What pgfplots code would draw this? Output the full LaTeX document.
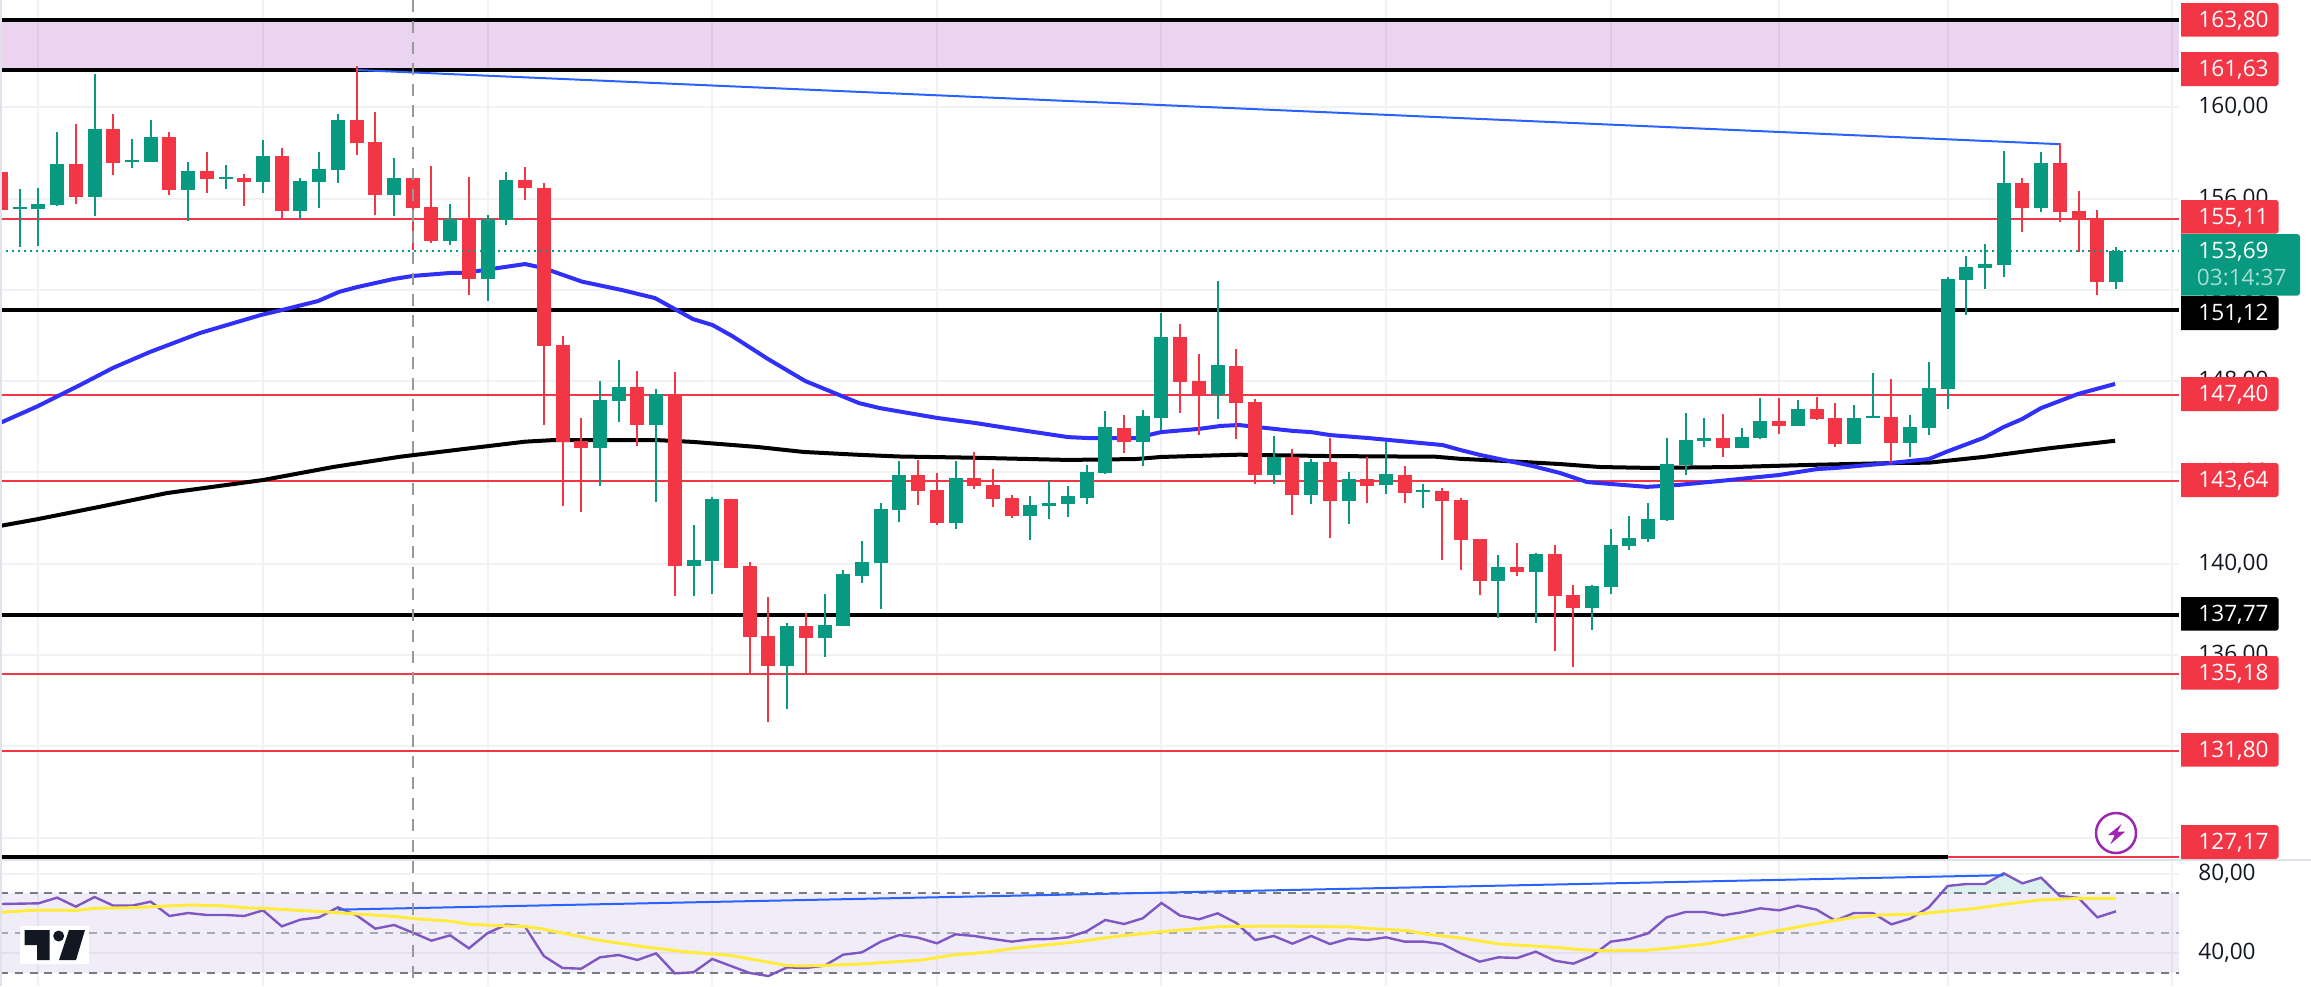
\documentclass[border=0pt]{standalone}
\usepackage{pgfplots}
\usepackage{pgfplotstable}
\usepackage{fontspec}
\setmainfont{Open Sans}
\pgfplotsset{compat=1.18}
\definecolor{cR}{HTML}{F23645}
\definecolor{cG}{HTML}{089981}
\definecolor{cMA}{HTML}{3030FA}
\definecolor{cT}{HTML}{2962FF}
\definecolor{cTx}{HTML}{131722}
\definecolor{cGrid}{HTML}{F1F2F4}
\definecolor{cRsi}{HTML}{7E57C2}
\definecolor{cY}{HTML}{FFEB3B}
\definecolor{cDash}{HTML}{787B86}
\definecolor{cBand}{HTML}{9C27B0}
\definecolor{cSep}{HTML}{E0E3EB}

\pgfplotstableread{
i low high bot top
1 153.89 156.42 155.54 155.64
2 153.94 156.46 155.54 155.76
3 155.67 158.91 155.72 157.51
5 155.23 161.45 156.07 159.05
7 157.34 158.61 157.60 157.69
8 157.60 159.44 157.60 158.70
10 155.02 157.60 156.37 157.21
12 156.42 157.47 156.86 156.94
14 156.24 158.56 156.72 157.86
16 155.10 156.90 155.45 156.77
17 155.59 158.04 156.72 157.29
18 156.68 159.70 157.25 159.44
21 155.23 157.77 156.15 156.90
24 153.96 155.76 154.14 155.10
26 151.51 155.28 152.47 155.10
27 154.84 157.16 155.06 156.81
32 143.40 148.01 145.08 147.17
33 146.22 148.93 147.14 147.74
35 142.71 147.66 146.08 147.44
37 138.59 141.69 139.90 140.17
38 138.67 142.93 140.12 142.83
42 133.65 137.40 135.52 137.28
44 135.93 138.67 136.75 137.32
45 137.28 139.73 137.28 139.55
46 139.16 141.00 139.46 140.08
47 138.02 142.66 140.03 142.40
48 141.83 144.51 142.36 143.89
51 141.52 144.51 141.79 143.75
55 141.05 142.98 142.10 142.58
56 141.97 143.68 142.54 142.67
57 142.06 143.41 142.63 142.98
58 142.63 144.33 142.89 144.03
59 143.94 146.70 143.98 146.00
61 144.29 146.74 145.34 146.48
62 145.87 150.99 146.39 149.94
65 146.35 152.39 147.40 148.71
68 143.50 145.60 143.90 144.68
70 142.63 144.60 143.02 144.47
72 141.75 144.03 142.76 143.72
74 143.06 145.34 143.46 143.94
76 142.45 143.50 143.15 143.24
80 137.63 140.39 139.25 139.87
82 137.41 140.48 139.65 140.44
85 137.11 139.08 138.07 139.03
86 138.68 141.53 138.99 140.83
87 140.61 142.10 140.79 141.14
88 140.96 142.67 141.09 141.97
89 141.88 145.52 141.93 144.38
90 143.90 146.61 144.33 145.43
91 145.12 146.39 145.39 145.52
93 145.08 145.96 145.08 145.56
94 145.47 147.27 145.52 146.26
96 146.04 147.18 146.04 146.79
99 145.25 146.96 145.25 146.39
100 146.39 148.36 146.39 146.48
102 144.68 146.52 145.30 146.00
103 145.65 148.84 145.95 147.70
104 146.78 152.57 147.66 152.48
105 150.90 153.49 152.44 153.00
106 152.04 154.01 152.96 153.14
107 152.57 158.09 153.09 156.68
109 155.41 158.04 155.59 157.56
113 152.04 153.88 152.35 153.69
}\greentable

\pgfplotstableread{
i low high bot top
0 155.38 158.08 155.50 157.16
4 155.76 159.26 156.07 157.51
6 157.03 159.70 157.56 159.05
9 156.15 158.91 156.37 158.70
11 156.24 158.04 156.86 157.21
13 155.67 157.07 156.72 156.90
15 155.15 158.21 155.45 157.86
19 157.91 161.80 158.43 159.44
20 155.28 159.79 156.15 158.48
22 153.74 156.90 155.59 156.90
23 154.05 157.43 154.14 155.63
25 151.77 156.94 152.47 155.15
28 155.93 157.38 156.46 156.81
29 146.08 156.68 149.55 156.46
30 142.53 149.97 145.33 149.59
31 142.26 146.38 145.08 145.40
34 145.18 148.45 146.08 147.74
36 138.59 148.40 139.90 147.41
39 139.81 142.83 139.81 142.83
40 135.19 140.08 136.80 139.90
41 133.09 138.54 135.52 136.83
43 135.19 137.85 136.75 137.28
49 142.58 144.54 143.18 143.89
50 141.69 143.97 141.79 143.23
52 143.28 144.90 143.41 143.77
53 142.49 144.16 142.85 143.46
54 142.01 143.02 142.10 142.89
60 144.86 146.52 145.34 145.95
63 146.61 150.51 147.97 149.94
64 145.65 149.20 147.40 148.01
66 145.47 149.42 147.05 148.67
67 143.50 147.22 143.90 147.09
69 142.14 145.03 143.02 144.68
71 141.14 145.52 142.76 144.47
73 142.67 144.68 143.41 143.72
75 142.67 144.29 143.11 143.90
77 140.17 143.33 142.76 143.20
78 139.74 142.89 141.05 142.80
79 138.64 141.09 139.25 141.09
81 139.47 140.92 139.65 139.87
83 136.19 140.83 138.60 140.44
84 135.49 139.08 138.07 138.64
92 144.69 146.57 145.08 145.52
95 145.69 147.27 146.04 146.26
97 146.31 147.31 146.35 146.79
98 145.12 147.05 145.25 146.39
101 144.42 148.10 145.30 146.44
108 154.54 156.90 155.59 156.68
110 154.98 158.44 155.41 157.56
111 153.68 156.33 155.11 155.46
112 151.78 155.50 152.35 155.11
}\redtable

\pgfplotstableread{
i v
-0.05 146.17
1.98 146.91
4.22 147.83
5.98 148.58
7.96 149.28
10.63 150.11
13.89 150.90
15.23 151.16
16.94 151.51
18.06 151.91
19.02 152.12
20.94 152.47
22.01 152.61
23.99 152.74
24.74 152.74
28 153.13
28.96 152.96
31.04 152.36
33.13 152.00
34.94 151.64
36.97 150.72
38.01 150.46
39.06 149.98
40.98 148.97
42.96 148.01
45.84 147.04
46.96 146.82
50.01 146.39
52.04 146.17
53.75 145.95
57.01 145.55
58.05 145.51
60.64 145.51
61.98 145.77
64 145.91
65.18 146.04
66.14 146.08
69.03 145.82
69.99 145.77
71 145.64
73.04 145.51
77.04 145.20
77.95 144.99
79.02 144.77
81.85 144.28
83.29 143.98
84.74 143.58
85.96 143.50
87.94 143.37
89.54 143.45
91.84 143.63
95 143.89
97.03 144.15
98.04 144.20
101.03 144.42
103 144.59
103.92 144.90
105.9 145.51
106.99 145.99
107.98 146.34
108.99 146.82
110.97 147.44
112.95 147.88
}\maBlue

\pgfplotstableread{
i v
-0.05 141.66
1.98 141.96
5.29 142.50
8.87 143.10
14 143.67
17.74 144.24
21.32 144.69
24.74 145.03
28 145.35
29.52 145.42
35.05 145.42
36.97 145.34
40.39 145.12
42.88 144.90
45.95 144.77
48.03 144.70
51.82 144.65
57.01 144.55
60.64 144.59
61.98 144.68
66.14 144.78
70.95 144.72
76.67 144.69
77.95 144.60
80.46 144.50
83.29 144.37
85.43 144.24
88.1 144.20
92.54 144.24
97.03 144.34
101.46 144.42
103 144.43
105.9 144.68
109.52 145.07
112.95 145.39
}\maBlack

\pgfplotstableread{
i v
0 64.66
1 64.83
2 65.00
3 67.87
4 63.32
5 68.20
6 63.82
7 63.82
8 65.84
9 58.60
10 60.11
11 59.10
12 59.10
13 58.60
14 61.46
15 53.37
16 56.74
17 57.92
18 62.98
19 58.93
20 52.19
21 54.05
22 50.17
23 46.13
24 48.82
25 42.25
26 50.00
27 54.22
28 53.20
29 38.38
30 32.31
31 31.97
32 37.70
33 38.88
34 36.35
35 39.72
36 29.61
37 30.12
38 36.86
39 33.32
40 29.78
41 28.26
42 32.65
43 32.31
44 33.49
45 39.05
46 40.23
47 45.62
48 48.99
49 47.64
50 44.78
51 49.33
52 48.49
53 46.97
54 45.62
55 46.80
56 46.97
57 47.81
58 50.85
59 56.58
60 54.55
61 57.42
62 65.17
63 58.77
64 56.91
65 59.95
66 55.06
67 46.46
68 48.49
69 44.61
70 48.49
71 44.44
72 47.14
73 46.46
74 47.81
75 45.62
76 45.62
77 44.44
78 39.72
79 35.51
80 37.70
81 37.36
82 40.57
83 36.02
84 34.50
85 38.38
86 45.62
87 46.97
88 49.83
89 57.92
90 60.62
91 60.62
92 58.93
93 60.45
94 62.47
95 61.46
96 63.82
97 61.80
98 56.24
99 60.11
100 60.11
101 54.38
102 57.25
103 62.98
104 73.76
105 74.77
106 74.77
107 80.17
108 75.11
109 77.97
110 68.71
111 67.69
112 57.92
113 60.95
}\rsi

\pgfplotstableread{
i v
-0.05 60.45
2 61.63
4.04 61.46
5 62.47
7.04 62.81
10.04 64.16
11.67 63.82
13.3 62.64
14 62.47
17.13 60.79
20.94 58.43
22.3 57.08
24.08 55.90
25.03 54.38
28.03 53.20
28.85 52.19
31.85 46.46
34.3 43.09
36.48 40.57
38.93 38.71
41.93 33.66
42.7 33.32
44.05 33.66
45.96 34.33
49.23 36.35
50.87 38.88
52.78 40.40
54.14 42.25
57.68 45.79
59.59 48.32
62.02 50.68
65.05 53.20
68.04 53.54
72.13 53.04
73.22 52.19
75.13 51.18
76.22 49.33
78.13 47.31
80.04 44.44
83.04 42.76
84.4 41.58
85.44 41.07
87.85 41.24
89.06 42.25
91.25 44.61
92.7 47.31
95.12 51.52
97.06 54.89
99 57.92
100.45 59.10
102.39 59.61
105.54 62.47
107 64.49
108.93 66.68
111.11 67.53
113 67.53
}\rsiMA

\newcommand{\candles}[2]{%
  \addplot[draw=none, mark=none, forget plot,
    error bars/.cd, y dir=plus, y explicit, error mark=none,
    error bar style={draw=#2, line width=1pt}]
    table[x=i, y=low, y error plus expr=\thisrow{high}-\thisrow{low}] {#1};
  \addplot[draw=none, mark=none, forget plot,
    error bars/.cd, y dir=plus, y explicit, error mark=none,
    error bar style={draw=#2, line width=7pt}]
    table[x=i, y=bot, y error plus expr=\thisrow{top}-\thisrow{bot}] {#1};
}
\newcommand{\hl}[3]{\addplot[#2, line width=#3, forget plot] coordinates {(-0.0534,#1) (116.365,#1)};}
\newcommand{\plabel}[5][2278.7]{%
  \fill[#4] (2181,#2) {[rounded corners=1.5pt] -- (#1,#2) -- (#1,#3)} -- (2181,#3) -- cycle;
  \node[anchor=base west, inner sep=0pt, text=white, font=\fontsize{11.3pt}{13pt}\selectfont] at (2198,#2+24) {#5};
}

\pgfplotsset{common/.style={
  scale only axis, width=1089.5pt,
  xmin=-0.0534, xmax=116.365,
  axis line style={draw=none},
  major tick length=0pt,
  xtick={2,14,26,38,50,62,74,86,95,104,116},
  xticklabels={},
  grid=major,
  grid style={cGrid, line width=1pt},
  yticklabel pos=right,
  y tick label style={anchor=west, inner sep=0pt, xshift=9.5pt, text=cTx,
     font=\fontsize{11.3pt}{13pt}\selectfont},
  /pgf/number format/.cd, fixed, fixed zerofill, precision=2, use comma, assume math mode=true,
}}

\begin{document}
\begin{tikzpicture}
\useasboundingbox (0pt,0pt) rectangle (1155.5pt,-493pt);

\begin{axis}[common, at={(0pt,0pt)}, anchor=north west, height=429.5pt,
  ymin=127.07, ymax=164.696, ytick={128,132,...,160}]
  % supply / demand band
  \addplot[draw=none, fill=cBand, fill opacity=0.2, forget plot]
     coordinates {(-0.0534,161.63) (116.365,161.63) (116.365,163.80) (-0.0534,163.80)} -- cycle;
  \hl{163.80}{black}{2pt}
  \hl{161.63}{black}{2pt}
  \hl{151.12}{black}{2pt}
  \hl{137.77}{black}{2pt}
  \addplot[black, line width=2pt, forget plot] coordinates {(-0.0534,127.17) (104,127.17)};
  \addplot[cR, line width=1pt, forget plot] coordinates {(104,127.17) (116.365,127.17)};
  \hl{155.11}{cR}{1pt}
  \hl{147.40}{cR}{1pt}
  \hl{143.64}{cR}{1pt}
  \hl{135.18}{cR}{1pt}
  \hl{131.80}{cR}{1pt}
  % moving averages
  \addplot[black, line width=2pt, forget plot] table[x=i,y=v] {\maBlack};
  \addplot[cMA, line width=2pt, forget plot] table[x=i,y=v] {\maBlue};
  % trend line
  \addplot[cT, line width=1pt, forget plot] coordinates {(19,161.63) (110,158.38)};
  % candles
  \candles{\greentable}{cG}
  \candles{\redtable}{cR}
  % last price
  \addplot[cG, line width=1pt, dash pattern=on 1pt off 2pt, forget plot]
     coordinates {(-0.0534,153.69) (116.365,153.69)};
\end{axis}

\begin{axis}[common, at={(0pt,-429.5pt)}, anchor=north west, height=63.5pt,
  ymin=23.2, ymax=87.4, ytick={40,80}]
  \addplot[draw=none, fill=cRsi, fill opacity=0.11, forget plot]
     coordinates {(-0.0534,30) (116.365,30) (116.365,70) (-0.0534,70)} -- cycle;
  \addplot[draw=none, fill=cG, fill opacity=0.14, forget plot]
     coordinates {(103.65,70) (104,73.76) (105,74.77) (106,74.77) (107,80.17) (108,75.11) (109,77.97) (109.86,70)} -- cycle;
  \addplot[cDash, line width=1pt, dash pattern=on 4pt off 3.4pt, forget plot] coordinates {(-0.0534,70) (116.365,70)};
  \addplot[cDash, opacity=0.6, line width=1pt, dash pattern=on 4pt off 3.4pt, forget plot] coordinates {(-0.0534,50) (116.365,50)};
  \addplot[cDash, line width=1pt, dash pattern=on 4pt off 3.4pt, forget plot] coordinates {(-0.0534,30) (116.365,30)};
  \addplot[cRsi, line width=1.2pt, forget plot] table[x=i,y=v] {\rsi};
  \addplot[cY, line width=1.5pt, forget plot] table[x=i,y=v] {\rsiMA};
  \addplot[cT, line width=1pt, forget plot] coordinates {(18,61.8) (107,79.2)};
\end{axis}

\begin{scope}[x=0.5pt,y=-0.5pt]
  % cross-hair, pane separator, left edge
  \draw[color=black!40!white, line width=1pt, dash pattern=on 6pt off 4.5pt] (413,0) -- (413,984);
  \draw[cSep, line width=1pt] (0,860) -- (2311,860);
  \draw[cSep, line width=0.8pt] (0.8,0) -- (0.8,986);
  % price labels
  \plabel{3}{36.7}{cR}{163,80}
  \plabel{52}{86}{cR}{161,63}
  \plabel{200}{233.5}{cR}{155,11}
  \plabel{296}{330}{black}{151,12}
  \plabel{377}{411}{cR}{147,40}
  \plabel{463}{497}{cR}{143,64}
  \plabel{597}{630.7}{black}{137,77}
  \plabel{656}{689.7}{cR}{135,18}
  \plabel{733}{766.7}{cR}{131,80}
  \plabel{825}{859}{cR}{127,17}
  \plabel[2300]{234}{295.7}{cG}{153,69}
  \node[anchor=base west, inner sep=0pt, text=white, opacity=0.65, font=\fontsize{11.3pt}{13pt}\selectfont] at (2196.5,285) {03:14:37};
  % flash icon
  \draw[cBand, line width=1.25pt, fill=white] (2116,833) circle [radius=20];
  \fill[cBand] (2121.5,824) -- (2108,835) -- (2114.7,835) -- (2110.2,844.3) -- (2125,831.7) -- (2117.5,831.7) -- cycle;
  % TradingView logo
  \fill[white] (20,926) rectangle (89,964);
  \fill[cTx] (24.5,930) -- (49.5,930) -- (49.5,960) -- (37,960) -- (37,945) -- (24.5,945) -- cycle;
  \fill[cTx] (58.7,936) ellipse [x radius=5.5, y radius=5.5];
  \fill[cTx] (69,930) -- (85,930) -- (76,960) -- (59,960) -- cycle;
\end{scope}
\end{tikzpicture}
\end{document}
